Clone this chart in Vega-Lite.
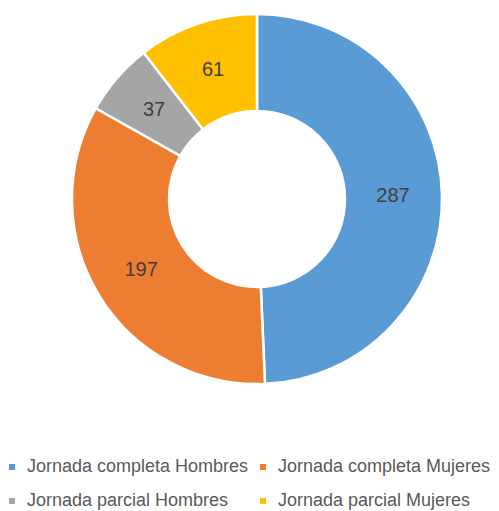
{
  "$schema": "https://vega.github.io/schema/vega-lite/v6.json",
  "width": 484,
  "height": 370,
  "padding": {"left": 15, "top": 14, "right": 0, "bottom": 127},
  "autosize": {"type": "none"},
  "background": "white",
  "data": {
    "values": [
      {"categoria": "Jornada completa Hombres", "valor": 287, "orden": 1},
      {"categoria": "Jornada completa Mujeres", "valor": 197, "orden": 2},
      {"categoria": "Jornada parcial Hombres", "valor": 37, "orden": 3},
      {"categoria": "Jornada parcial Mujeres", "valor": 61, "orden": 4}
    ]
  },
  "encoding": {
    "theta": {"field": "valor", "type": "quantitative", "stack": true},
    "order": {"field": "orden", "type": "quantitative"}
  },
  "layer": [
    {
      "mark": {"type": "arc", "outerRadius": 185, "innerRadius": 88, "stroke": "white", "strokeWidth": 2.5},
      "encoding": {
        "color": {
          "field": "categoria",
          "type": "nominal",
          "scale": {
            "domain": ["Jornada completa Hombres", "Jornada completa Mujeres", "Jornada parcial Hombres", "Jornada parcial Mujeres"],
            "range": ["#5B9BD5", "#ED7D31", "#A5A5A5", "#FFC000"]
          },
          "legend": {
            "orient": "none",
            "legendX": -12,
            "legendY": 444,
            "direction": "horizontal",
            "columns": 2,
            "title": null,
            "symbolType": "square",
            "symbolSize": 36,
            "symbolStrokeWidth": 0,
            "labelFont": "Liberation Sans",
            "labelFontSize": 18,
            "labelColor": "#595959",
            "labelLimit": 300,
            "labelOffset": 6,
            "columnPadding": 5,
            "rowPadding": 16,
            "symbolOffset": 0
          }
        }
      }
    },
    {
      "mark": {"type": "text", "radius": 136, "font": "Liberation Sans", "fontSize": 20, "color": "#404040"},
      "encoding": {
        "text": {"field": "valor", "type": "quantitative"}
      }
    }
  ]
}
